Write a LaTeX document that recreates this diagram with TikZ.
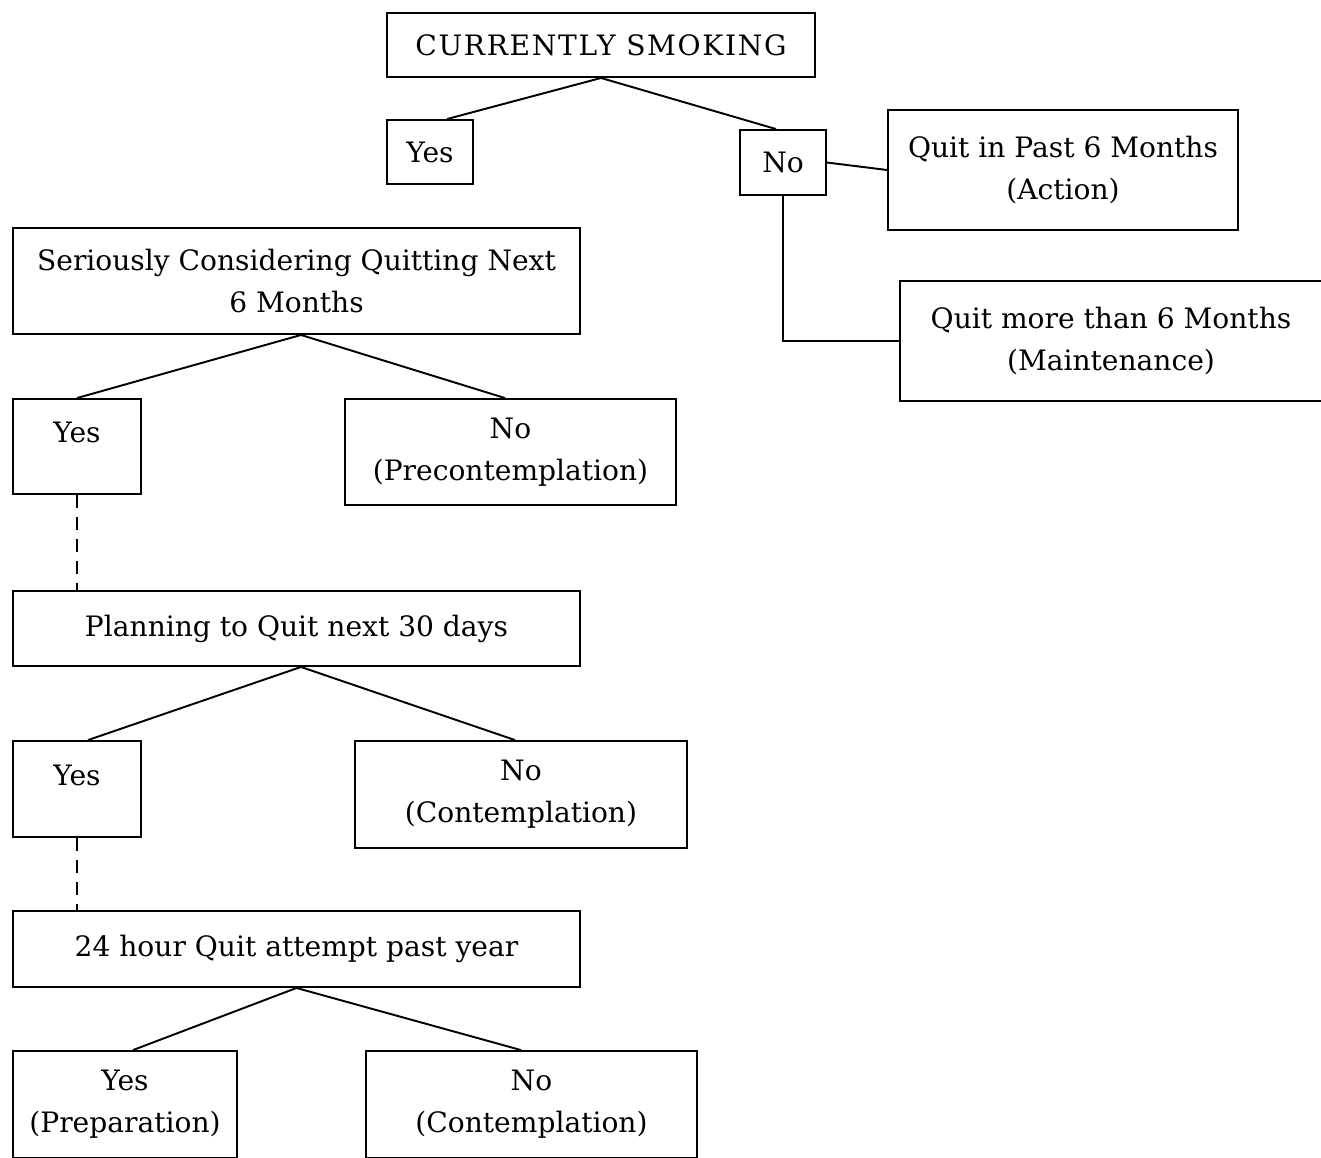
\documentclass[tikz,border=0pt]{standalone}
\usepackage{fontspec}
\setmainfont{DejaVu Serif}

\begin{document}
\begin{tikzpicture}[x=0.02cm,y=-0.02cm,
  every node/.style={draw,rectangle,line width=1.1pt,align=center,inner sep=2pt,font=\fontsize{16}{24}\selectfont},
  branch/.style={line width=1.1pt},
  gap/.style={line width=1.1pt,dash pattern=on 0.26cm off 0.18cm}]
    \useasboundingbox (0,0) rectangle (1321,1157);

    \node[minimum width=8.56cm,minimum height=1.28cm] (smoking) at (601,45) {\addfontfeature{LetterSpace=6}CURRENTLY SMOKING};
    \node[minimum width=1.72cm,minimum height=1.28cm] (yesA) at (430,152) {Yes};
    \node[minimum width=1.72cm,minimum height=1.3cm] (noA) at (783,162.5) {No};
    \node[minimum width=7cm,minimum height=2.4cm] (action) at (1063,170) {Quit in Past 6 Months\\(Action)};
    \node[minimum width=8.44cm,minimum height=2.4cm] (maint) at (1111,341) {Quit more than 6 Months\\(Maintenance)};

    \node[minimum width=11.34cm,minimum height=2.12cm] (serious) at (296.5,281) {Seriously Considering Quitting Next\\6 Months};
    \node[minimum width=2.56cm,minimum height=1.9cm] (yesB) at (77,446.5) {Yes\\[-8pt]~};
    \node[minimum width=6.62cm,minimum height=2.12cm] (noB) at (510.5,452) {No\\(Precontemplation)};

    \node[minimum width=11.34cm,minimum height=1.5cm] (plan) at (296.5,628.5) {Planning to Quit next 30 days};
    \node[minimum width=2.56cm,minimum height=1.92cm] (yesC) at (77,789) {Yes\\[-8pt]~};
    \node[minimum width=6.64cm,minimum height=2.14cm] (noC) at (521,794.5) {No\\(Contemplation)};

    \node[minimum width=11.34cm,minimum height=1.52cm] (attempt) at (296.5,949) {24 hour Quit attempt past year};
    \node[minimum width=4.48cm,minimum height=2.14cm] (yesD) at (125,1104.5) {Yes\\(Preparation)};
    \node[minimum width=6.62cm,minimum height=2.14cm] (noD) at (531.5,1104.5) {No\\(Contemplation)};

    \draw[branch] ([xshift=0.34cm]yesA.north) -- (smoking.south) -- ([xshift=-0.14cm]noA.north);
    \draw[branch] (noA.east) -- (action.west);
    \draw[branch] (noA.south) |- (maint.west);

    \draw[branch] (yesB.north) -- ([xshift=0.09cm]serious.south) -- ([xshift=-0.11cm]noB.north);
    \draw[gap] (yesB.south) -- (yesB.south |- plan.north);

    \draw[branch] ([xshift=0.22cm]yesC.north) -- ([xshift=0.09cm]plan.south) -- ([xshift=-0.12cm]noC.north);
    \draw[gap] (yesC.south) -- (yesC.south |- attempt.north);

    \draw[branch] ([xshift=0.16cm]yesD.north) -- (attempt.south) -- ([xshift=-0.21cm]noD.north);
\end{tikzpicture}
\end{document}
